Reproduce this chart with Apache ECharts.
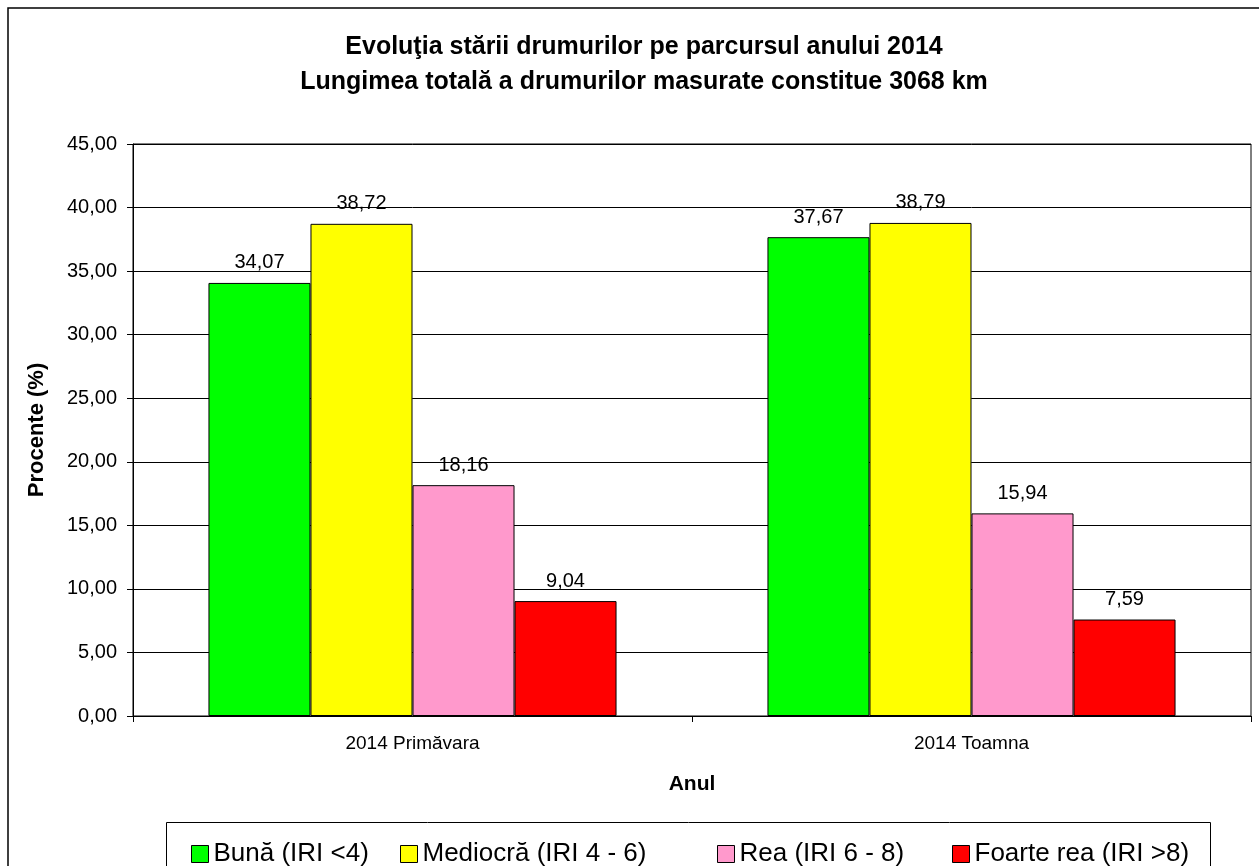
<!DOCTYPE html>
<html>
<head>
    <meta charset="UTF-8">
    <title>Evolutia starii drumurilor 2014</title>
    <script src="https://cdn.jsdelivr.net/npm/echarts@6/dist/echarts.min.js"></script>
    <style>
        body { margin: 0; background: #fff; }
        #main { width: 1259px; height: 866px; }
    </style>
</head>
<body>
    <div id="main"></div>
    <script>
        // date
        var categories = ['2014 Primăvara', '2014 Toamna'];
        var bunaData = [34.07, 37.67];
        var mediocraData = [38.72, 38.79];
        var reaData = [18.16, 15.94];
        var foarteReaData = [9.04, 7.59];
        var seriesNames = ['Bună (IRI <4)', 'Mediocră (IRI 4 - 6)', 'Rea (IRI 6 - 8)', 'Foarte rea (IRI >8)'];
        var seriesColors = ['#00ff00', '#ffff00', '#ff99cc', '#ff0000'];
        var allData = [bunaData, mediocraData, reaData, foarteReaData];

        var font = 'Liberation Sans, Arial, sans-serif';
        function fmt(v) {
            return Number(v).toFixed(2).replace('.', ',');
        }

        var series = allData.map(function (d, i) {
            return {
                name: seriesNames[i],
                type: 'bar',
                data: d,
                barGap: '0%',
                barCategoryGap: '27%',
                itemStyle: { color: seriesColors[i], borderColor: '#000', borderWidth: 1 },
                label: {
                    show: true,
                    position: 'top',
                    distance: 10,
                    color: '#000',
                    fontFamily: font,
                    fontSize: 20,
                    formatter: function (p) { return fmt(p.value); }
                }
            };
        });

        // legenda: cate o componenta pe fiecare coloana (ca in Excel)
        var legendLeft = [191, 400, 717, 952];
        var legends = seriesNames.map(function (name, i) {
            return {
                data: [name],
                left: legendLeft[i],
                top: 841,
                padding: 0,
                itemWidth: 17,
                itemHeight: 17,
                icon: 'rect',
                itemStyle: { borderColor: '#000', borderWidth: 1 },
                textStyle: { fontFamily: font, fontSize: 26, color: '#000' }
            };
        });

        var myChart = echarts.init(document.getElementById('main'));
        var option = {
            animation: false,
            backgroundColor: '#fff',
            graphic: [{
                type: 'rect',
                shape: { x: 8, y: 8, width: 1300, height: 900 },
                style: { fill: 'none', stroke: '#000', lineWidth: 1.5 },
                z: -1
            }, {
                // chenarul legendei
                type: 'rect',
                shape: { x: 166.5, y: 822.5, width: 1044, height: 80 },
                style: { fill: 'none', stroke: '#000', lineWidth: 1 },
                z: -1
            }],
            title: {
                text: 'Evoluţia stării drumurilor pe parcursul anului 2014\nLungimea totală a drumurilor masurate constitue 3068 km',
                left: 639,
                top: 25,
                textAlign: 'center',
                textStyle: {
                    fontFamily: font,
                    fontSize: 25,
                    fontWeight: 'bold',
                    color: '#000',
                    lineHeight: 35
                }
            },
            legend: legends,
            grid: {
                left: 133,
                right: 8,
                top: 144,
                bottom: 150,
                show: true,
                borderColor: '#000',
                borderWidth: 1
            },
            xAxis: {
                type: 'category',
                data: categories,
                name: 'Anul',
                nameLocation: 'middle',
                nameGap: 58,
                nameTextStyle: { fontFamily: font, fontSize: 21, fontWeight: 'bold', color: '#000' },
                axisLine: { lineStyle: { color: '#000', width: 1 } },
                axisTick: { show: true, length: 6, lineStyle: { color: '#000' } },
                axisLabel: { fontFamily: font, fontSize: 19, color: '#000', margin: 18 }
            },
            yAxis: {
                type: 'value',
                min: 0,
                max: 45,
                interval: 5,
                name: 'Procente (%)',
                nameLocation: 'middle',
                nameGap: 85,
                nameTextStyle: { fontFamily: font, fontSize: 22, fontWeight: 'bold', color: '#000' },
                axisLine: { show: true, lineStyle: { color: '#000', width: 1 } },
                axisTick: { show: true, length: 6, lineStyle: { color: '#000' } },
                splitLine: { show: true, lineStyle: { color: '#000', width: 1 } },
                axisLabel: {
                    fontFamily: font,
                    fontSize: 20,
                    color: '#000',
                    margin: 16,
                    formatter: function (v) { return fmt(v); }
                }
            },
            series: series
        };
        myChart.setOption(option);
    </script>
</body>
</html>
